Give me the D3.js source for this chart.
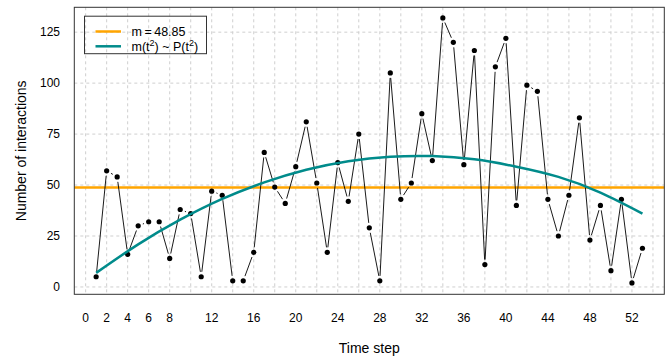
<!DOCTYPE html>
<html>
<head>
<meta charset="utf-8">
<script src="https://cdn.jsdelivr.net/npm/d3@7"></script>
<style>
  body { margin: 0; background: #fff; }
  svg text { font-family: "Liberation Sans", Arial, Helvetica, sans-serif; fill: #000; }
</style>
</head>
<body>
<div id="chart"></div>
<script>
// number of interactions per time step (t = 1..53)
const interactions = [5, 57, 54, 16, 30, 32, 32, 14, 38, 36,
  5, 47, 45, 3, 3, 17, 66, 49, 41, 59,
  81, 51, 17, 61, 42, 75, 29, 3, 105, 43,
  51, 85, 62, 132, 120, 60, 116, 11, 108, 122,
  40, 99, 96, 43, 25, 45, 83, 23, 40, 8,
  43, 2, 19];

// quadratic trend
const fitSteps = [1, 5, 9, 13, 17, 21, 25, 29, 33, 37, 41, 45, 49, 53];
const fitValues = [6.9, 20.9, 33.0, 43.2, 51.3, 57.5, 61.7, 63.9, 64.2, 62.6, 59.0, 54.0, 46.3, 36.0];

const xTicks = [0, 2, 4, 6, 8, 12, 16, 20, 24, 28, 32, 36, 40, 44, 48, 52];
const xGrid = [0, 2, 4, 6, 8, 10, 12, 14, 16, 18, 20, 22, 24, 26, 28, 30, 32, 34, 36, 38, 40, 42, 44, 46, 48, 50, 52, 54];
const yTicks = [0, 25, 50, 75, 100, 125];

const w = 672, h = 359;
const pLeft = 74.3, pRight = 664.3, pTop = 7.3, pBottom = 294.3;

const points = interactions.map((v, i) => ({t: i + 1, v: v}));
const mean = d3.mean(interactions);

const svg = d3.select("#chart").append("svg")
  .attr("width", w).attr("height", h)
  .attr("viewBox", "0 0 " + w + " " + h);

const x = d3.scaleLinear().domain([-1.08, 55.08]).range([pLeft, pRight]);
const y = d3.scaleLinear().domain([-3.6, 137.2]).range([pBottom, pTop]);

// grid
const grid = svg.append("g").attr("stroke", "#cfcfcf").attr("stroke-width", 1).attr("stroke-dasharray", "3,3");
grid.selectAll(null).data(xGrid).enter().append("line")
  .attr("x1", d => x(d)).attr("x2", d => x(d)).attr("y1", pTop).attr("y2", pBottom);
grid.selectAll(null).data(yTicks).enter().append("line")
  .attr("x1", pLeft).attr("x2", pRight).attr("y1", d => y(d)).attr("y2", d => y(d));

// mean line
svg.append("line")
  .attr("x1", pLeft).attr("x2", pRight).attr("y1", y(mean)).attr("y2", y(mean))
  .attr("stroke", "#FFA500").attr("stroke-width", 2.5);

// line segments with gaps around points (type = "b")
const gap = 5;
const segs = [];
for (let i = 0; i < points.length - 1; i++) {
  const x0 = x(points[i].t), y0 = y(points[i].v), x1 = x(points[i + 1].t), y1 = y(points[i + 1].v);
  const len = Math.hypot(x1 - x0, y1 - y0);
  if (len <= 2 * gap + 1) continue;
  const ux = (x1 - x0) / len, uy = (y1 - y0) / len;
  segs.push([x0 + ux * gap, y0 + uy * gap, x1 - ux * gap, y1 - uy * gap]);
}
svg.append("g").selectAll(null).data(segs).enter().append("line")
  .attr("x1", d => d[0]).attr("y1", d => d[1]).attr("x2", d => d[2]).attr("y2", d => d[3])
  .attr("stroke", "#000").attr("stroke-width", 0.9);

svg.append("g").selectAll(null).data(points).enter().append("circle")
  .attr("cx", d => x(d.t)).attr("cy", d => y(d.v)).attr("r", 2.6).attr("fill", "#000");

// fitted curve
const fit = fitSteps.map((t, i) => [t, fitValues[i]]);
svg.append("path").datum(fit)
  .attr("d", d3.line().x(d => x(d[0])).y(d => y(d[1])).curve(d3.curveNatural))
  .attr("fill", "none").attr("stroke", "#008B8B").attr("stroke-width", 2.5);

// panel border
svg.append("rect").attr("x", pLeft).attr("y", pTop).attr("width", pRight - pLeft).attr("height", pBottom - pTop)
  .attr("fill", "none").attr("stroke", "#333").attr("stroke-width", 1);

// axes labels (no tick marks)
svg.append("g").selectAll(null).data(xTicks).enter().append("text")
  .attr("x", d => x(d)).attr("y", 322).attr("text-anchor", "middle")
  .style("font-size", "12px").text(d => d);
svg.append("g").selectAll(null).data(yTicks).enter().append("text")
  .attr("x", 60).attr("y", d => y(d) + 4.3).attr("text-anchor", "end")
  .style("font-size", "12px").text(d => d);

svg.append("text").attr("x", (pLeft + pRight) / 2).attr("y", 352.5).attr("text-anchor", "middle")
  .style("font-size", "14px").text("Time step");
svg.append("text").attr("transform", "translate(26," + ((pTop + pBottom) / 2) + ") rotate(-90)")
  .attr("text-anchor", "middle").style("font-size", "14px").text("Number of interactions");

// legend
const lg = svg.append("g");
lg.append("rect").attr("x", 84.5).attr("y", 16.2).attr("width", 122).attr("height", 37.5)
  .attr("fill", "none").attr("stroke", "#333").attr("stroke-width", 1);
const items = [{c: "#FFA500", y: 31.5}, {c: "#008B8B", y: 46.3}];
lg.selectAll(null).data(items).enter().append("line")
  .attr("x1", 95.5).attr("x2", 121).attr("y1", d => d.y).attr("y2", d => d.y)
  .attr("stroke", d => d.c).attr("stroke-width", 2.5);
lg.append("text").attr("x", 131.5).attr("y", 36).style("font-size", "12.5px")
  .text("m\u2009=\u2009" + d3.format(".2f")(mean));
const t2 = lg.append("text").attr("x", 131.5).attr("y", 51).style("font-size", "12.5px");
t2.append("tspan").text("m(t");
t2.append("tspan").attr("dy", -5).style("font-size", "9px").text("2");
t2.append("tspan").attr("dy", 5).text(") ~ P(t");
t2.append("tspan").attr("dy", -5).style("font-size", "9px").text("2");
t2.append("tspan").attr("dy", 5).text(")");
</script>
</body>
</html>
